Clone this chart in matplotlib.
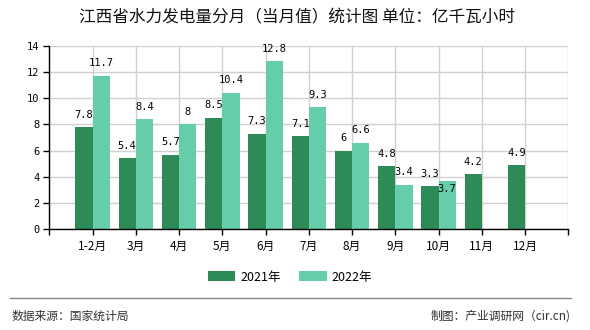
import numpy as np
import matplotlib
matplotlib.use("Agg")
import matplotlib.pyplot as plt
from matplotlib.lines import Line2D
from matplotlib.patches import Patch

plt.rcParams["font.family"] = ["Noto Sans CJK SC", "DejaVu Sans"]

months = ["1-2月", "3月", "4月", "5月", "6月", "7月", "8月", "9月", "10月", "11月", "12月"]
v2021 = [7.8, 5.4, 5.7, 8.5, 7.3, 7.1, 6, 4.8, 3.3, 4.2, 4.9]
v2022 = [11.7, 8.4, 8, 10.4, 12.8, 9.3, 6.6, 3.4, 3.7]
series_names = ["2021年", "2022年"]

COL_21, COL_22 = "#2E8B57", "#66CDAA"
NUM_FONT = "DejaVu Sans Mono"

fig = plt.figure(figsize=(5.9, 3.3), dpi=100)
ax = fig.add_axes([49.3 / 590, 1 - 229.3 / 330, 519 / 590, (229.3 - 45.7) / 330])

x = np.arange(1, len(months) + 1)
w = 0.4
x21 = x[:len(v2021)] - w / 2
x22 = x[:len(v2022)] + w / 2
ax.bar(x21, v2021, w, color=COL_21, zorder=3)
ax.bar(x22, v2022, w, color=COL_22, zorder=3)


def fmt(v):
    return f"{v:g}"


for xi, v in zip(x21, v2021):
    ax.annotate(fmt(v), (xi, v), xytext=(0, 9), textcoords="offset points",
                ha="center", va="center", fontsize=7.5, family=NUM_FONT, zorder=4)
for i, (xi, v) in enumerate(zip(x22, v2022)):
    dy = -6 if i == 8 else 9  # label pushed into the bar to avoid overlap
    ax.annotate(fmt(v), (xi, v), xytext=(0, dy), textcoords="offset points",
                ha="center", va="center", fontsize=7.5, family=NUM_FONT, zorder=4)

ax.set_xlim(0, 12)
ax.set_ylim(0, 14)
ax.set_yticks(np.arange(0, 15, 2))
ax.set_yticklabels([str(t) for t in range(0, 15, 2)], family=NUM_FONT, fontsize=7.5)
ax.set_xticks(np.arange(0, 13))
ax.set_xticklabels([""] + months + [""], fontsize=8.5)
ax.tick_params(axis="both", direction="out", length=4, width=1, color="black", pad=3)
ax.tick_params(axis="x", pad=4)
ax.grid(True, color="#d0d0d0", lw=1, zorder=0)
for side in ("top", "right"):
    ax.spines[side].set_visible(False)
for side in ("left", "bottom"):
    ax.spines[side].set_color("black")
    ax.spines[side].set_linewidth(1)
    ax.spines[side].set_zorder(5)

fig.text(0.503, 1 - 18 / 330, "江西省水力发电量分月（当月值）统计图 单位：亿千瓦小时",
         ha="center", va="center", fontsize=12, color="#111111")

handles = [Patch(facecolor=COL_21, edgecolor="none"), Patch(facecolor=COL_22, edgecolor="none")]
fig.legend(handles, series_names, loc="center", bbox_to_anchor=(290 / 590, 1 - 277 / 330),
           ncol=2, frameon=False, fontsize=9, handlelength=2.2, handleheight=0.9,
           handletextpad=0.4, columnspacing=1.5)

fig.add_artist(Line2D([10 / 590, 571 / 590], [1 - 298 / 330, 1 - 298 / 330],
                      color="#888888", lw=1.0, transform=fig.transFigure))
fig.text(12 / 590, 1 - 316 / 330, "数据来源：国家统计局", ha="left", va="center",
         fontsize=8.5, color="#333333")
fig.text(571 / 590, 1 - 316 / 330, "制图：产业调研网（cir.cn)", ha="right", va="center",
         fontsize=8.5, color="#333333")

fig.savefig("out.png", dpi=100)
